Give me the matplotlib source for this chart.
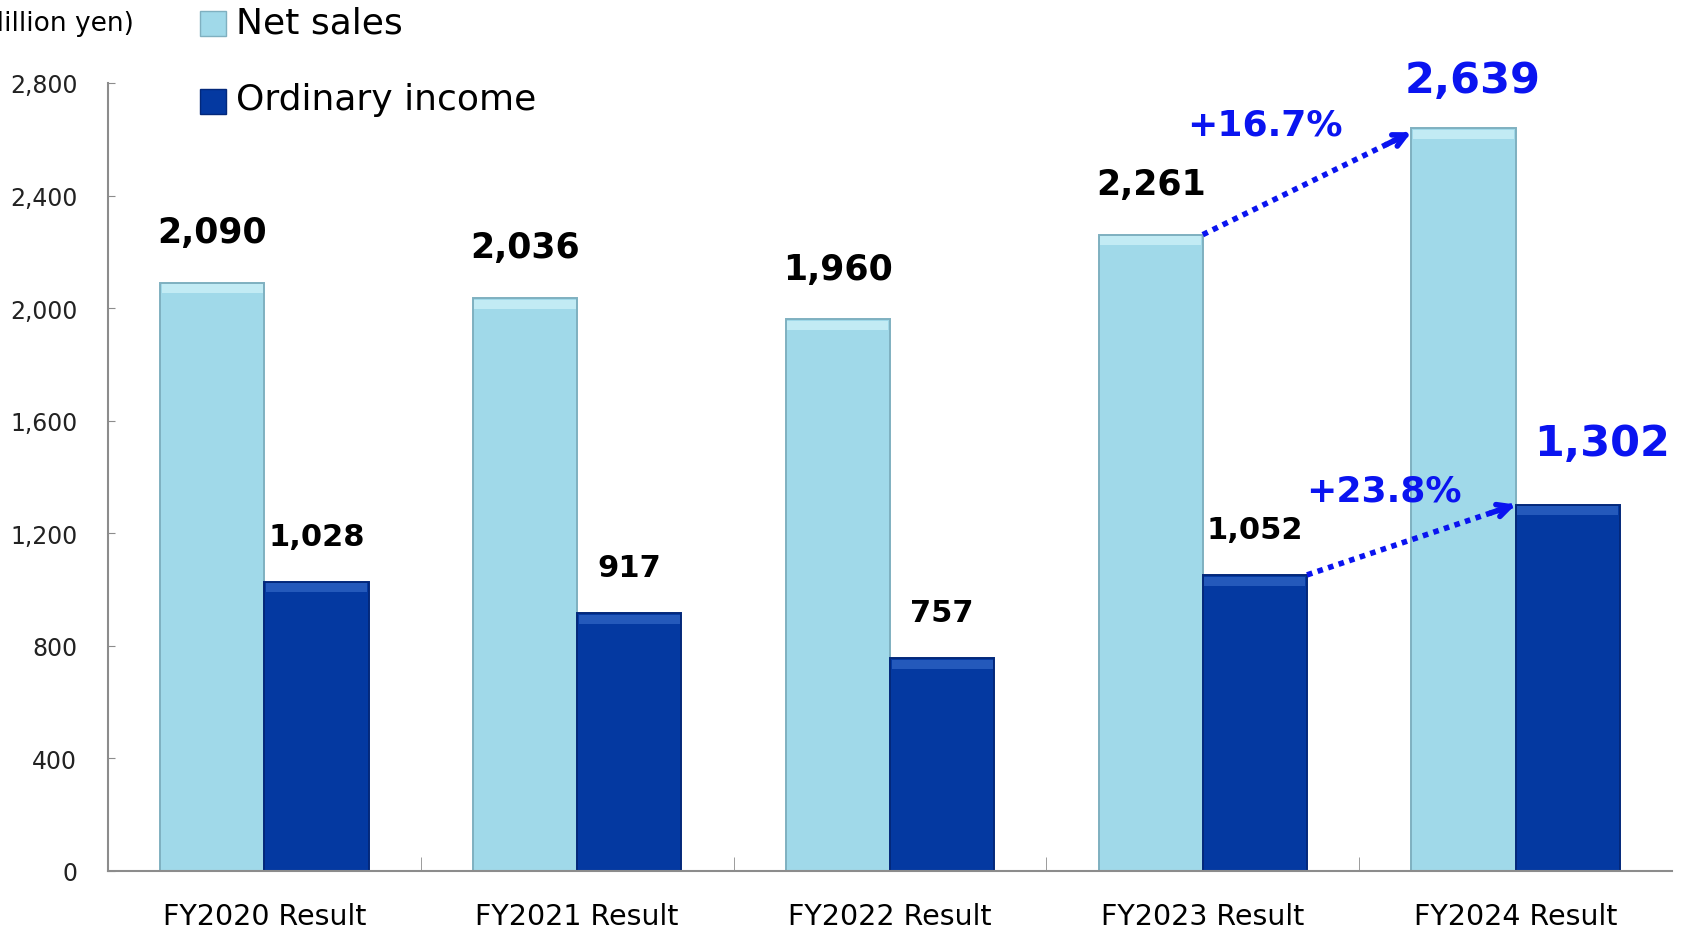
import matplotlib.pyplot as plt
import numpy as np

# data
categories = ["FY2020 Result", "FY2021 Result", "FY2022 Result",
              "FY2023 Result", "FY2024 Result"]
net_sales = [2090, 2036, 1960, 2261, 2639]
ordinary_income = [1028, 917, 757, 1052, 1302]
growth_sales = "+16.7%"
growth_income = "+23.8%"

light = "#A0D9E9"
light_top = "#C2EBF4"
dark = "#0439A1"
dark_top = "#2459BB"
blue_txt = "#0A14F0"

plt.rcParams['font.family'] = ['DejaVu Sans']

fig = plt.figure(figsize=(16.86, 9.29), dpi=100)
ax = fig.add_axes([0.064, 0.0614, 0.9277, 0.8482])

x = np.arange(len(categories))
w = 1 / 3
bevel = 32

# bars
ax.bar(x - w / 2, net_sales, w, color=light, edgecolor="#7FB0C0", linewidth=1.4, zorder=2)
ax.bar(x + w / 2, ordinary_income, w, color=dark, edgecolor="#03287A", linewidth=1.4, zorder=2)
# bevel highlight on top
ax.bar(x - w / 2, bevel, w * 0.97, bottom=np.array(net_sales) - bevel - 6,
       color=light_top, linewidth=0, zorder=3)
ax.bar(x + w / 2, bevel, w * 0.97, bottom=np.array(ordinary_income) - bevel - 6,
       color=dark_top, linewidth=0, zorder=3)

ax.set_xlim(-0.5, len(categories) - 0.5)
ax.set_ylim(0, 2800)
ax.set_yticks(np.arange(0, 2801, 400))
ax.set_yticklabels([f"{v:,}" for v in range(0, 2801, 400)])
ax.set_xticks(x)
ax.set_xticklabels(categories)
ax.set_xticks(x[:-1] + 0.5, minor=True)

for s in ["top", "right"]:
    ax.spines[s].set_visible(False)
for s in ["left", "bottom"]:
    ax.spines[s].set_color("#8C8C8C")
    ax.spines[s].set_linewidth(1.5)

ax.tick_params(axis="y", direction="in", length=5, color="#8C8C8C",
               labelsize=17, labelcolor="#222222", pad=22)
ax.tick_params(axis="x", which="major", length=0, labelsize=20.5, pad=22)
ax.tick_params(axis="x", which="minor", direction="in", length=10, color="#8C8C8C")

# value labels
for i in range(len(categories) - 1):
    ax.text(x[i] - w / 2, net_sales[i] + 180, f"{net_sales[i]:,}", ha="center",
            va="center", fontsize=25, fontweight="bold", color="black")
    ax.text(x[i] + w / 2, ordinary_income[i] + 160, f"{ordinary_income[i]:,}",
            ha="center", va="center", fontsize=22, fontweight="bold", color="black")

ax.text(x[4] - w / 2 + 0.03, net_sales[4] + 170, f"{net_sales[4]:,}", ha="center",
        va="center", fontsize=31, fontweight="bold", color=blue_txt)
ax.text(x[4] + w / 2 + 0.11, ordinary_income[4] + 218, f"{ordinary_income[4]:,}",
        ha="center", va="center", fontsize=31, fontweight="bold", color=blue_txt)

# growth arrows (dotted line + open head)
arrows = [((x[3], net_sales[3]), (x[4] - w, 2625)),
          ((x[3] + w, ordinary_income[3]), (x[4], ordinary_income[4]))]
for (x0, y0), (x1, y1) in arrows:
    ax.plot([x0, x1], [y0, y1], color=blue_txt, lw=4, linestyle=(0, (1, 1)),
            zorder=5, solid_capstyle="butt", dash_capstyle="butt")
    ax.annotate("", xy=(x1, y1), xytext=(x1 - (x1 - x0) * 0.12, y1 - (y1 - y0) * 0.12),
                arrowprops=dict(arrowstyle="->,head_length=0.9,head_width=0.45",
                                color=blue_txt, lw=4, shrinkA=0, shrinkB=0), zorder=5)

ax.text(3.2, 2651, growth_sales, ha="center", va="center", fontsize=26,
        fontweight="bold", color=blue_txt)
ax.text(3.58, 1352, growth_income, ha="center", va="center", fontsize=26,
        fontweight="bold", color=blue_txt)

# unit label (cut at the left edge, as in the source slide) and legend
fig.text(0.0795, 0.974, "(Million yen)", ha="right", va="center", fontsize=19)
fig.patches.append(plt.Rectangle((0.1186, 0.960), 0.0154, 0.027, transform=fig.transFigure,
                                 facecolor=light, edgecolor="#7FB0C0", lw=1))
fig.patches.append(plt.Rectangle((0.1186, 0.876), 0.0154, 0.027, transform=fig.transFigure,
                                 facecolor=dark, edgecolor="#03287A", lw=1))
fig.text(0.140, 0.975, "Net sales", ha="left", va="center", fontsize=26)
fig.text(0.140, 0.892, "Ordinary income", ha="left", va="center", fontsize=26)

fig.savefig("out.png", dpi=100)
